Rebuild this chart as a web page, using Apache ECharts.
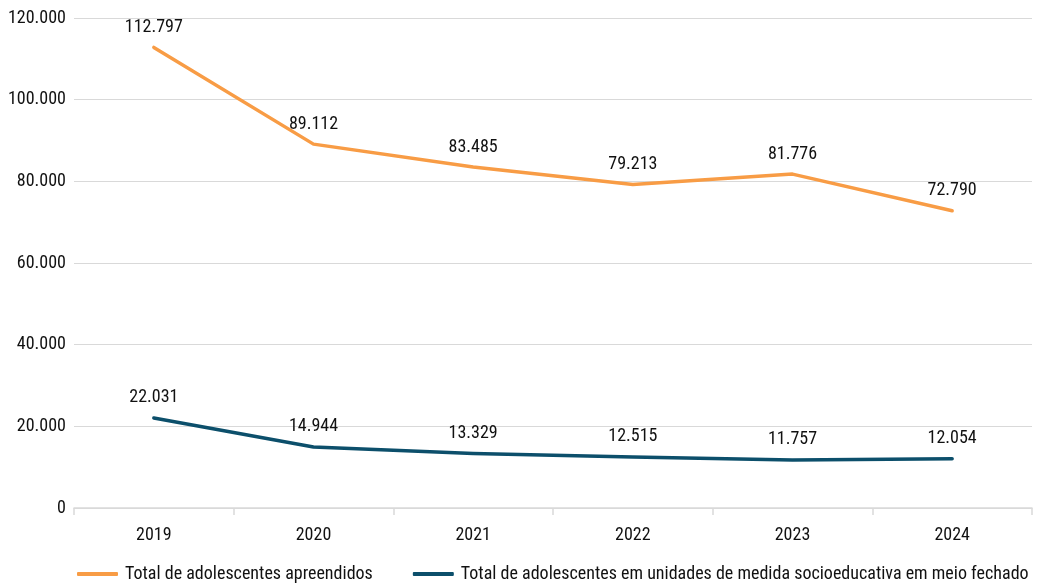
<!DOCTYPE html>
<html>
<head>
<meta charset="utf-8">
<script src="https://cdn.jsdelivr.net/npm/echarts@6/dist/echarts.min.js"></script>
<style>
  html, body { margin: 0; padding: 0; background: #fff; }
  #chart { width: 1037px; height: 583px; }
</style>
</head>
<body>
<div id="chart"></div>
<script>
const years = ['2019', '2020', '2021', '2022', '2023', '2024'];
const apreendidos = [112797, 89112, 83485, 79213, 81776, 72790];
const meioFechado = [22031, 14944, 13329, 12515, 11757, 12054];
const seriesNames = [
  'Total de adolescentes apreendidos',
  'Total de adolescentes em unidades de medida socioeducativa em meio fechado'
];

const FONT = '"Roboto Condensed", "DejaVu Sans Condensed", sans-serif';

// thousands separator with a dot
function fmt(v) {
  return String(Math.round(v)).replace(/\B(?=(\d{3})+(?!\d))/g, '.');
}

const chart = echarts.init(document.getElementById('chart'));

function lineSeries(name, data, color) {
  return {
    name: name,
    type: 'line',
    data: data,
    symbol: 'circle',
    symbolSize: 0.1,
    showSymbol: true,
    lineStyle: { color: color, width: 3.5, cap: 'round', join: 'round' },
    itemStyle: { color: color },
    label: {
      show: true,
      position: 'top',
      distance: 11,
      formatter: p => fmt(p.value),
      color: '#111',
      fontSize: 18,
      fontFamily: FONT
    },
    emphasis: { disabled: true },
    animation: false
  };
}

chart.setOption({
  animation: false,
  grid: { left: 74, right: 5, top: 18, bottom: 75, containLabel: false },
  legend: {
    orient: 'horizontal',
    top: 560,
    left: 72,
    width: 965,
    itemWidth: 41,
    itemHeight: 4,
    itemGap: 40,
    icon: 'roundRect',
    textStyle: { fontSize: 18, fontFamily: FONT, color: '#111', padding: [0, 0, 0, 2] },
    data: seriesNames
  },
  xAxis: {
    type: 'category',
    data: years,
    boundaryGap: true,
    axisLine: { lineStyle: { color: '#d9d9d9', width: 1.5 } },
    axisTick: { show: true, length: 7, lineStyle: { color: '#d9d9d9', width: 1.5 } },
    axisLabel: { fontSize: 18, fontFamily: FONT, color: '#111', margin: 18 }
  },
  yAxis: {
    type: 'value',
    min: 0,
    max: 120000,
    interval: 20000,
    axisLine: { show: false },
    axisTick: { show: false },
    splitLine: { lineStyle: { color: '#d9d9d9', width: 1 } },
    axisLabel: { fontSize: 18, fontFamily: FONT, color: '#111', margin: 8, formatter: v => fmt(v) }
  },
  series: [
    lineSeries(seriesNames[0], apreendidos, '#f89c45'),
    lineSeries(seriesNames[1], meioFechado, '#0c4f6b')
  ]
});
</script>
</body>
</html>
